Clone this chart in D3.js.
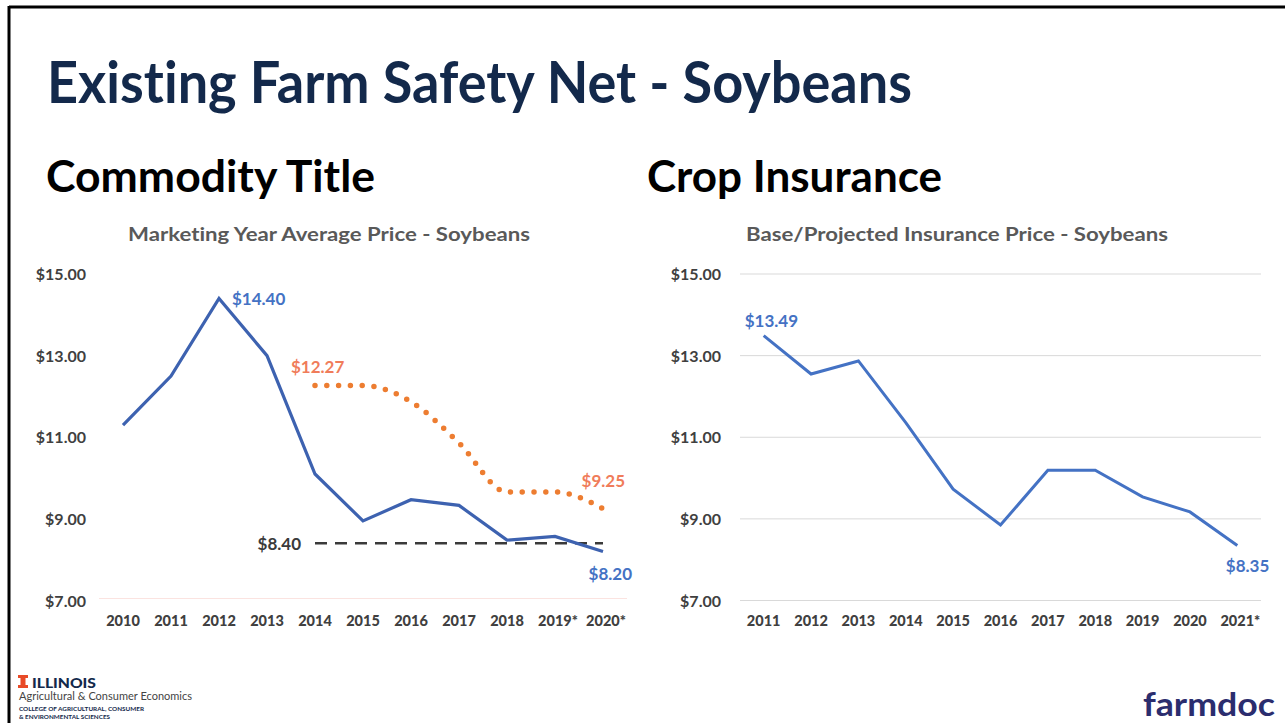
<!DOCTYPE html>
<html>
<head>
<meta charset="utf-8">
<script src="https://cdn.jsdelivr.net/npm/d3@7"></script>
<style>
  body { margin: 0; background: #fff; }
  svg text { font-family: Lato, "Open Sans", sans-serif; font-variant-ligatures: none; }
</style>
</head>
<body>
<svg id="slide" width="1285" height="723"></svg>
<script>
// chart data
var mktYears = ["2010", "2011", "2012", "2013", "2014", "2015", "2016", "2017", "2018", "2019*", "2020*"];
var mktPrice = [11.30, 12.50, 14.40, 13.00, 10.10, 8.95, 9.47, 9.33, 8.48, 8.57, 8.20];
var refYears = ["2014", "2015", "2016", "2017", "2018", "2019*", "2020*"];
var refPrice = [12.27, 12.27, 11.87, 10.86, 9.66, 9.66, 9.25];
var statYears = ["2014", "2020*"];
var statPrice = [8.40, 8.40];

var insYears = ["2011", "2012", "2013", "2014", "2015", "2016", "2017", "2018", "2019", "2020", "2021*"];
var insPrice = [13.49, 12.55, 12.87, 11.36, 9.73, 8.85, 10.19, 10.19, 9.54, 9.17, 8.35];

var yTicks = [7, 9, 11, 13, 15];

var svg = d3.select("#slide");
var fmt = d3.format("$.2f");

// slide frame
svg.append("line").attr("x1", 9).attr("x2", 1285).attr("y1", 7).attr("y2", 7)
  .attr("stroke", "#000").attr("stroke-width", 3);
svg.append("line").attr("x1", 9).attr("x2", 9).attr("y1", 6).attr("y2", 723)
  .attr("stroke", "#000").attr("stroke-width", 3);

// headings
svg.append("text").attr("x", 47).attr("y", 103)
  .attr("font-size", 57).attr("font-weight", "bold").attr("fill", "#13294B")
  .attr("textLength", 865).attr("lengthAdjust", "spacingAndGlyphs")
  .text("Existing Farm Safety Net - Soybeans");
svg.append("text").attr("x", 46).attr("y", 192)
  .attr("font-size", 44).attr("font-weight", "bold").attr("fill", "#000")
  .attr("textLength", 329).attr("lengthAdjust", "spacingAndGlyphs")
  .text("Commodity Title");
svg.append("text").attr("x", 647).attr("y", 192)
  .attr("font-size", 44).attr("font-weight", "bold").attr("fill", "#000")
  .attr("textLength", 295).attr("lengthAdjust", "spacingAndGlyphs")
  .text("Crop Insurance");

// shared y scale
var y = d3.scaleLinear().domain([7, 15]).range([600.5, 274]);

function yAxisLabels(g, xRight) {
  g.selectAll("text.ylab")
    .data(yTicks)
    .enter()
    .append("text")
    .attr("class", "ylab")
    .attr("x", xRight)
    .attr("y", d => y(d) + 6)
    .attr("text-anchor", "end")
    .attr("font-size", 16)
    .attr("font-weight", "bold")
    .attr("fill", "#404040")
    .text(d => fmt(d));
}

function xAxisLabels(g, x, years) {
  g.selectAll("text.xlab")
    .data(years)
    .enter()
    .append("text")
    .attr("class", "xlab")
    .attr("x", d => x(d) + (d.endsWith("*") ? 3 : 0))
    .attr("y", 626)
    .attr("text-anchor", "middle")
    .attr("font-size", 14.5)
    .attr("font-weight", "900")
    .attr("fill", "#404040")
    .text(d => d);
}

// ---------- left chart ----------
var left = svg.append("g");
var xL = d3.scalePoint().domain(mktYears).range([99, 627]).padding(0.5);

left.append("text").attr("x", 329).attr("y", 241)
  .attr("text-anchor", "middle").attr("font-size", 19).attr("font-weight", "bold")
  .attr("fill", "#595959").attr("textLength", 402).attr("lengthAdjust", "spacingAndGlyphs")
  .text("Marketing Year Average Price - Soybeans");

left.append("line").attr("x1", 99).attr("x2", 627).attr("y1", y(7) - 2).attr("y2", y(7) - 2)
  .attr("stroke", "#fbe3e0").attr("stroke-width", 1);

yAxisLabels(left, 86);
xAxisLabels(left, xL, mktYears);

var lineL = d3.line().x(d => xL(d[0])).y(d => y(d[1]));

left.append("path")
  .datum(statYears.map((d, i) => [d, statPrice[i]]))
  .attr("d", lineL)
  .attr("fill", "none").attr("stroke", "#3a3a3a").attr("stroke-width", 2.5)
  .attr("stroke-dasharray", "12,8");

left.append("path")
  .datum(refYears.map((d, i) => [d, refPrice[i]]))
  .attr("d", lineL.curve(d3.curveMonotoneX))
  .attr("fill", "none").attr("stroke", "#ED7D31").attr("stroke-width", 5.5)
  .attr("stroke-linecap", "round").attr("stroke-dasharray", "0,11.8");
lineL.curve(d3.curveLinear);

left.append("path")
  .datum(mktYears.map((d, i) => [d, mktPrice[i]]))
  .attr("d", lineL)
  .attr("fill", "none").attr("stroke", "#3D62B0").attr("stroke-width", 3.2);

var lblL = [
  { x: xL("2012") + 13, y: y(14.40) + 7, t: fmt(14.40), c: "#4472C4", a: "start" },
  { x: xL("2014") - 24, y: y(12.27) - 12, t: fmt(12.27), c: "#F07C5A", a: "start" },
  { x: xL("2020*") + 22, y: y(9.25) - 22, t: fmt(9.25), c: "#F07C5A", a: "end" },
  { x: xL("2020*") + 29, y: y(8.20) + 28, t: fmt(8.20), c: "#4472C4", a: "end" },
  { x: xL("2014") - 14, y: y(8.40) + 7, t: fmt(8.40), c: "#3a3a3a", a: "end" }
];
left.selectAll("text.dl")
  .data(lblL)
  .enter()
  .append("text")
  .attr("class", "dl")
  .attr("x", d => d.x).attr("y", d => d.y)
  .attr("text-anchor", d => d.a)
  .attr("font-size", 17).attr("font-weight", "bold")
  .attr("fill", d => d.c)
  .text(d => d.t);

// ---------- right chart ----------
var right = svg.append("g");
var xR = d3.scalePoint().domain(insYears).range([740, 1261]).padding(0.5);

right.append("text").attr("x", 957).attr("y", 241)
  .attr("text-anchor", "middle").attr("font-size", 19).attr("font-weight", "bold")
  .attr("fill", "#595959").attr("textLength", 422).attr("lengthAdjust", "spacingAndGlyphs")
  .text("Base/Projected Insurance Price - Soybeans");

right.selectAll("line.grid")
  .data(yTicks)
  .enter()
  .append("line")
  .attr("class", "grid")
  .attr("x1", 740).attr("x2", 1261)
  .attr("y1", d => y(d)).attr("y2", d => y(d))
  .attr("stroke", "#d9d9d9").attr("stroke-width", 1);

yAxisLabels(right, 721);
xAxisLabels(right, xR, insYears);

var lineR = d3.line().x((d, i) => xR(insYears[i])).y(d => y(d));
right.append("path")
  .datum(insPrice)
  .attr("d", lineR)
  .attr("fill", "none").attr("stroke", "#4472C4").attr("stroke-width", 3);

var lblR = [
  { x: xR("2011") - 19, y: y(13.49) - 9, t: fmt(13.49), a: "start" },
  { x: xR("2021*") + 32, y: y(8.35) + 27, t: fmt(8.35), a: "end" }
];
right.selectAll("text.dl")
  .data(lblR)
  .enter()
  .append("text")
  .attr("class", "dl")
  .attr("x", d => d.x).attr("y", d => d.y)
  .attr("text-anchor", d => d.a)
  .attr("font-size", 17).attr("font-weight", "bold")
  .attr("fill", "#4472C4")
  .text(d => d.t);

// ---------- logos ----------
var logo = svg.append("g");
logo.append("path")
  .attr("d", "M18,675 h10 v3 h-2.5 v7 h2.5 v3 h-10 v-3 h2.5 v-7 h-2.5 z")
  .attr("fill", "#E84A27");
logo.append("text").attr("x", 32).attr("y", 688)
  .attr("font-size", 14).attr("font-weight", "900").attr("fill", "#13294B")
  .attr("textLength", 64).attr("lengthAdjust", "spacingAndGlyphs")
  .text("ILLINOIS");
logo.append("text").attr("x", 19).attr("y", 700)
  .attr("font-size", 11.5).attr("fill", "#444")
  .attr("textLength", 173).attr("lengthAdjust", "spacingAndGlyphs")
  .text("Agricultural & Consumer Economics");
logo.append("text").attr("x", 19).attr("y", 711)
  .attr("font-size", 5.5).attr("font-weight", "bold").attr("fill", "#13294B")
  .attr("textLength", 125).attr("lengthAdjust", "spacingAndGlyphs")
  .text("COLLEGE OF AGRICULTURAL, CONSUMER");
logo.append("text").attr("x", 19).attr("y", 719)
  .attr("font-size", 5.5).attr("font-weight", "bold").attr("fill", "#13294B")
  .attr("textLength", 91).attr("lengthAdjust", "spacingAndGlyphs")
  .text("& ENVIRONMENTAL SCIENCES");

logo.append("text").attr("x", 1143).attr("y", 716)
  .attr("font-size", 32).attr("font-weight", "bold").attr("fill", "#2B2D6E")
  .attr("textLength", 132).attr("lengthAdjust", "spacingAndGlyphs")
  .attr("font-family", "'Open Sans', sans-serif")
  .text("farmdoc");
</script>
</body>
</html>
